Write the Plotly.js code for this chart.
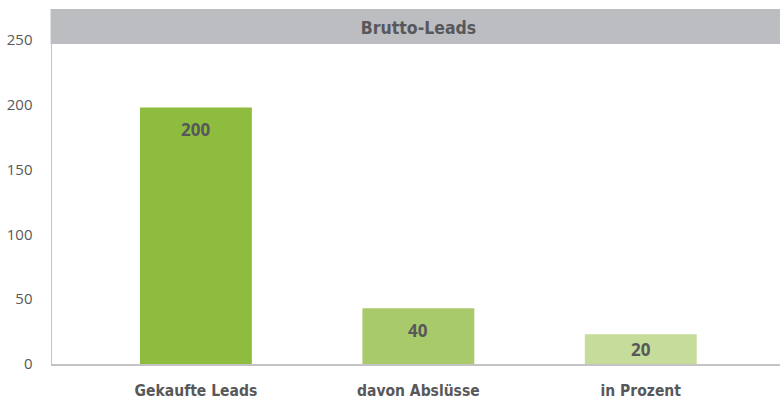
<!DOCTYPE html>
<html>
<head>
<meta charset="utf-8">
<script src="https://cdn.plot.ly/plotly-3.0.1.min.js"></script>
<style>html,body{margin:0;padding:0;background:#fff}#chart{width:780px;height:402px}</style>
</head>
<body>
<div id="chart"></div>
<script>
const categories = ["Gekaufte Leads", "davon Abslüsse", "in Prozent"];
const values = [198, 43, 23];
const valueLabels = ["200", "40", "20"];
const barColors = ["#8dbc3f", "#a9ca6b", "#c5dc9a"];
const yTicks = [0, 50, 100, 150, 200, 250];

const textGray = "#58585a";
const condensed = "'Liberation Sans Narrow', 'DejaVu Sans Condensed', Roboto, sans-serif";

const trace = {
  type: "bar",
  x: categories,
  y: values,
  width: 0.503,
  marker: {color: barColors, line: {width: 0}},
  hoverinfo: "none"
};

const annotations = categories.map((c, i) => ({
  x: c, y: values[i], xref: "x", yref: "y",
  text: valueLabels[i],
  showarrow: false,
  yanchor: "middle",
  yshift: -Math.min(22, values[i] * 1.296 / 2),
  font: {family: "'Open Sans', sans-serif", size: 17, weight: 700, color: textGray}
}));

const layout = {
  width: 780, height: 402,
  margin: {l: 52, r: 0, t: 40, b: 38, pad: 0},
  paper_bgcolor: "#ffffff",
  plot_bgcolor: "#ffffff",
  showlegend: false,
  title: {
    text: "<b>Brutto-Leads</b>",
    x: 0.5365, xanchor: "center", xref: "container",
    y: 1 - 28 / 402, yanchor: "middle", yref: "container",
    font: {family: condensed, size: 17.5, color: textGray}
  },
  xaxis: {
    type: "category",
    range: [-0.647, 2.626],
    showgrid: false, zeroline: false,
    showline: true, linecolor: "#c4c4c6", linewidth: 1.5,
    ticks: "", ticklabelstandoff: 12,
    tickfont: {family: condensed, size: 15.5, color: textGray},
    tickprefix: "<b>", ticksuffix: "</b>",
    fixedrange: true
  },
  yaxis: {
    range: [0, 250],
    tickvals: yTicks,
    ticktext: yTicks.map(String),
    showgrid: false, zeroline: false,
    showline: true, linecolor: "#c4c4c6", linewidth: 1.5,
    ticks: "", ticklabelstandoff: 15,
    tickfont: {family: "'Open Sans', sans-serif", size: 15, color: textGray},
    fixedrange: true
  },
  shapes: [{
    type: "rect", xref: "paper", yref: "paper", layer: "above",
    x0: -0.002, x1: 1, y0: (324 - 4) / 324, y1: (324 + 31) / 324,
    fillcolor: "#bcbdc1", line: {width: 0}
  }],
  annotations: annotations
};

Plotly.newPlot("chart", [trace], layout, {displayModeBar: false, staticPlot: true});
</script>
</body>
</html>
